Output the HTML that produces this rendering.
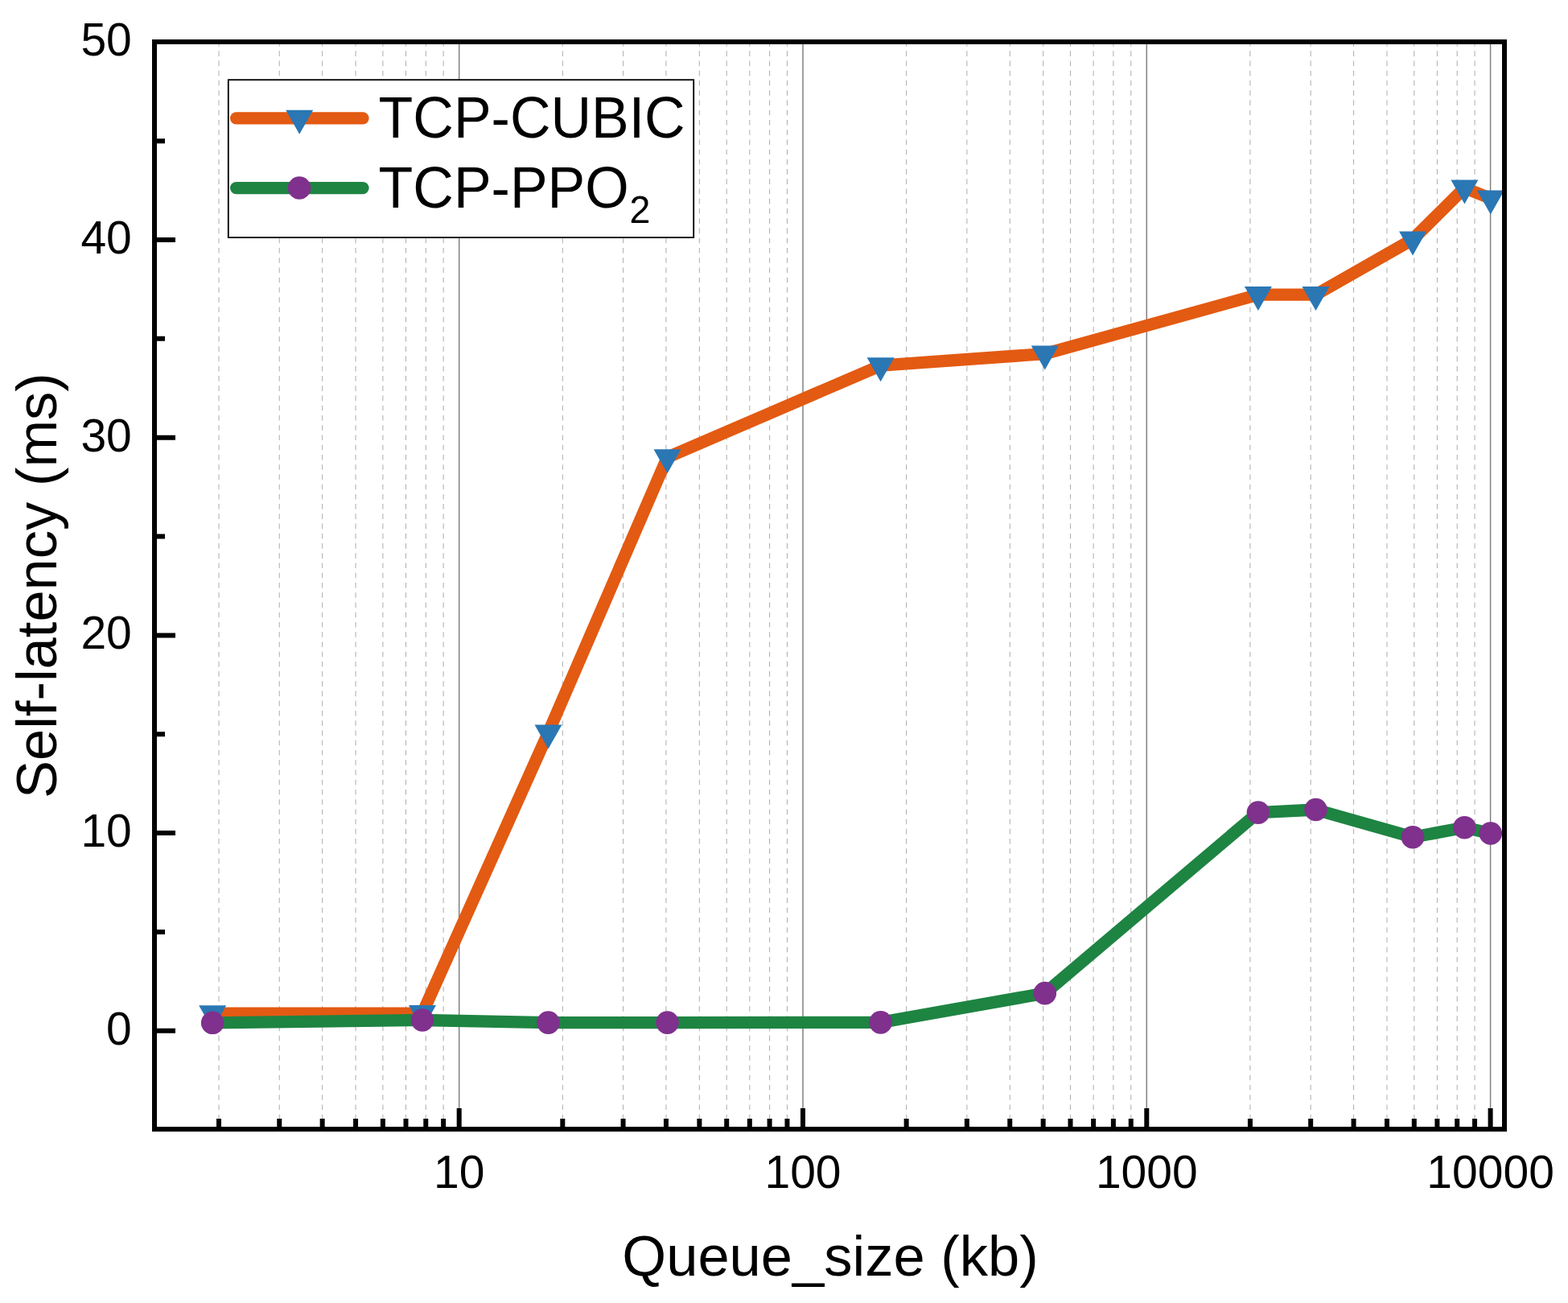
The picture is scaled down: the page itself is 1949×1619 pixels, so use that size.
<!DOCTYPE html>
<html><head><meta charset="utf-8"><title>Self-latency vs Queue size</title>
<style>html,body{margin:0;padding:0;background:#fff;}svg{display:block;}text{font-family:"Liberation Sans",Arial,sans-serif;}</style>
</head><body>
<svg width="1949" height="1619" viewBox="0 0 1949 1619">
<rect width="1949" height="1619" fill="#fff"/>
<g stroke="#b0b0b0" stroke-width="1.05" stroke-dasharray="6.6 5.635" stroke-dashoffset="3.935" fill="none">
<line x1="272.03" y1="55" x2="272.03" y2="1400"/>
<line x1="347.27" y1="55" x2="347.27" y2="1400"/>
<line x1="400.66" y1="55" x2="400.66" y2="1400"/>
<line x1="442.07" y1="55" x2="442.07" y2="1400"/>
<line x1="475.90" y1="55" x2="475.90" y2="1400"/>
<line x1="504.51" y1="55" x2="504.51" y2="1400"/>
<line x1="529.29" y1="55" x2="529.29" y2="1400"/>
<line x1="551.15" y1="55" x2="551.15" y2="1400"/>
<line x1="699.33" y1="55" x2="699.33" y2="1400"/>
<line x1="774.57" y1="55" x2="774.57" y2="1400"/>
<line x1="827.96" y1="55" x2="827.96" y2="1400"/>
<line x1="869.37" y1="55" x2="869.37" y2="1400"/>
<line x1="903.20" y1="55" x2="903.20" y2="1400"/>
<line x1="931.81" y1="55" x2="931.81" y2="1400"/>
<line x1="956.59" y1="55" x2="956.59" y2="1400"/>
<line x1="978.45" y1="55" x2="978.45" y2="1400"/>
<line x1="1126.63" y1="55" x2="1126.63" y2="1400"/>
<line x1="1201.87" y1="55" x2="1201.87" y2="1400"/>
<line x1="1255.26" y1="55" x2="1255.26" y2="1400"/>
<line x1="1296.67" y1="55" x2="1296.67" y2="1400"/>
<line x1="1330.50" y1="55" x2="1330.50" y2="1400"/>
<line x1="1359.11" y1="55" x2="1359.11" y2="1400"/>
<line x1="1383.89" y1="55" x2="1383.89" y2="1400"/>
<line x1="1405.75" y1="55" x2="1405.75" y2="1400"/>
<line x1="1553.93" y1="55" x2="1553.93" y2="1400"/>
<line x1="1629.17" y1="55" x2="1629.17" y2="1400"/>
<line x1="1682.56" y1="55" x2="1682.56" y2="1400"/>
<line x1="1723.97" y1="55" x2="1723.97" y2="1400"/>
<line x1="1757.80" y1="55" x2="1757.80" y2="1400"/>
<line x1="1786.41" y1="55" x2="1786.41" y2="1400"/>
<line x1="1811.19" y1="55" x2="1811.19" y2="1400"/>
<line x1="1833.05" y1="55" x2="1833.05" y2="1400"/>
</g>
<g stroke="#808080" stroke-width="1.5" fill="none">
<line x1="570.70" y1="55" x2="570.70" y2="1400"/>
<line x1="998.00" y1="55" x2="998.00" y2="1400"/>
<line x1="1425.30" y1="55" x2="1425.30" y2="1400"/>
<line x1="1852.60" y1="55" x2="1852.60" y2="1400"/>
</g>
<polyline points="264.2,1259.2 525.0,1259.1 681.5,910.4 829.5,568.3 1094.6,454.2 1298.8,439.6 1563.9,366.1 1635.5,366.1 1756.0,297.5 1820.4,233.5 1852.8,246.5" fill="none" stroke="#E35A12" stroke-width="15.3" stroke-linejoin="round" stroke-linecap="round"/>
<g fill="#2A77B4">
<path d="M247.20,1249.20L281.20,1249.20L264.20,1279.20Z"/>
<path d="M508.00,1249.10L542.00,1249.10L525.00,1279.10Z"/>
<path d="M664.50,900.40L698.50,900.40L681.50,930.40Z"/>
<path d="M812.50,558.30L846.50,558.30L829.50,588.30Z"/>
<path d="M1077.60,444.20L1111.60,444.20L1094.60,474.20Z"/>
<path d="M1281.80,429.60L1315.80,429.60L1298.80,459.60Z"/>
<path d="M1546.90,356.10L1580.90,356.10L1563.90,386.10Z"/>
<path d="M1618.50,356.10L1652.50,356.10L1635.50,386.10Z"/>
<path d="M1739.00,287.50L1773.00,287.50L1756.00,317.50Z"/>
<path d="M1803.40,223.50L1837.40,223.50L1820.40,253.50Z"/>
<path d="M1835.80,236.50L1869.80,236.50L1852.80,266.50Z"/>
</g>
<polyline points="264.2,1270.8 525.0,1267.5 681.5,1270.6 829.5,1270.6 1094.6,1270.4 1298.8,1234.1 1563.9,1009.6 1635.5,1006.0 1756.0,1040.2 1820.4,1028.2 1852.8,1035.5" fill="none" stroke="#1E8442" stroke-width="15.3" stroke-linejoin="round" stroke-linecap="round"/>
<g fill="#7F318D">
<circle cx="264.2" cy="1270.8" r="14.3"/>
<circle cx="525.0" cy="1267.5" r="14.3"/>
<circle cx="681.5" cy="1270.6" r="14.3"/>
<circle cx="829.5" cy="1270.6" r="14.3"/>
<circle cx="1094.6" cy="1270.4" r="14.3"/>
<circle cx="1298.8" cy="1234.1" r="14.3"/>
<circle cx="1563.9" cy="1009.6" r="14.3"/>
<circle cx="1635.5" cy="1006.0" r="14.3"/>
<circle cx="1756.0" cy="1040.2" r="14.3"/>
<circle cx="1820.4" cy="1028.2" r="14.3"/>
<circle cx="1852.8" cy="1035.5" r="14.3"/>
</g>
<rect x="192" y="52" width="1678" height="1351" fill="none" stroke="#000" stroke-width="6"/>
<path d="M192,1280.80H218M192,1035.10H218M192,789.40H218M192,543.70H218M192,298.00H218M192,1157.95H205M192,912.25H205M192,666.55H205M192,420.85H205M192,175.15H205M570.70,1403V1377M998.00,1403V1377M1425.30,1403V1377M1852.60,1403V1377M272.03,1403V1390M347.27,1403V1390M400.66,1403V1390M442.07,1403V1390M475.90,1403V1390M504.51,1403V1390M529.29,1403V1390M551.15,1403V1390M699.33,1403V1390M774.57,1403V1390M827.96,1403V1390M869.37,1403V1390M903.20,1403V1390M931.81,1403V1390M956.59,1403V1390M978.45,1403V1390M1126.63,1403V1390M1201.87,1403V1390M1255.26,1403V1390M1296.67,1403V1390M1330.50,1403V1390M1359.11,1403V1390M1383.89,1403V1390M1405.75,1403V1390M1553.93,1403V1390M1629.17,1403V1390M1682.56,1403V1390M1723.97,1403V1390M1757.80,1403V1390M1786.41,1403V1390M1811.19,1403V1390M1833.05,1403V1390" stroke="#000" stroke-width="6" fill="none"/>
<g font-size="57" fill="#000">
<text x="163.8" y="1297.8" text-anchor="end">0</text>
<text x="163.8" y="1052.1" text-anchor="end">10</text>
<text x="163.8" y="806.4" text-anchor="end">20</text>
<text x="163.8" y="560.7" text-anchor="end">30</text>
<text x="163.8" y="315.0" text-anchor="end">40</text>
<text x="163.8" y="69.3" text-anchor="end">50</text>
<text x="570.7" y="1476" text-anchor="middle">10</text>
<text x="998.0" y="1476" text-anchor="middle">100</text>
<text x="1425.3" y="1476" text-anchor="middle">1000</text>
<text x="1852.6" y="1476" text-anchor="middle">10000</text>
</g>
<g font-size="70.5" fill="#000">
<text x="1032" y="1584.5" text-anchor="middle">Queue_size (kb)</text>
<text transform="translate(70.2,727.6) rotate(-90)" text-anchor="middle">Self-latency (ms)</text>
</g>
<rect x="283.8" y="99.2" width="578.4" height="195.9" fill="#fff" stroke="#000" stroke-width="1.8"/>
<line x1="293.6" y1="146.8" x2="451" y2="146.8" stroke="#E35A12" stroke-width="15.3" stroke-linecap="round"/>
<g fill="#2A77B4"><path d="M355.20,136.80L389.20,136.80L372.20,166.80Z"/></g>
<line x1="293.6" y1="233.6" x2="451" y2="233.6" stroke="#1E8442" stroke-width="15.3" stroke-linecap="round"/>
<circle cx="372.1" cy="233.5" r="14.3" fill="#7F318D"/>
<g font-size="70" fill="#000">
<text transform="translate(470.6,170.7) scale(1,1.045)">TCP-CUBIC</text>
<text transform="translate(470.6,257.9) scale(1,1.045)">TCP-PPO<tspan font-size="46.6" dx="0.9" dy="18.0">2</tspan></text>
</g>
</svg>
</body></html>
